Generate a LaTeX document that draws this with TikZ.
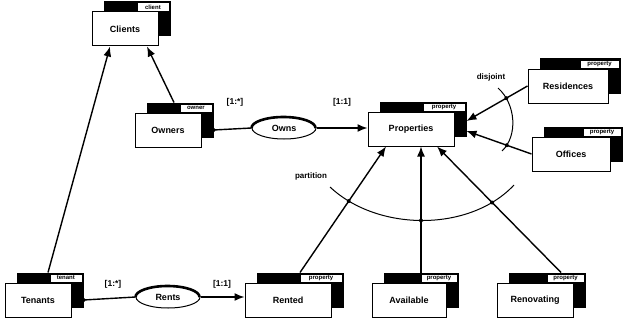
\documentclass[tikz,border=0pt]{standalone}
\usepackage{fontspec}
\setmainfont{Liberation Sans}
\usetikzlibrary{arrows.meta,intersections,calc,shapes.geometric}
\tikzset{
  frontbox/.style={draw,fill=white,line width=1pt,minimum height=34pt,inner sep=0pt,font=\bfseries\fontsize{9}{10}\selectfont},
  backbox/.style={draw,fill=black,line width=1pt,minimum height=34pt,inner sep=0pt},
  tagbox/.style={draw=black,fill=white,line width=0.5pt,minimum height=8.5pt,inner sep=0pt,font=\bfseries\fontsize{6}{6}\selectfont},
  rel/.style={draw,fill=white,ellipse,line width=1pt,minimum width=64pt,minimum height=22pt,inner sep=0pt,font=\bfseries\fontsize{9}{10}\selectfont},
  conn/.style={line width=1.4pt},
  arr/.style={line width=1.4pt,-{Latex[length=10pt,width=8pt]}},
  card/.style={font=\bfseries\fontsize{8.5}{9}\selectfont},
  note/.style={font=\bfseries\fontsize{8}{9}\selectfont},
  dotm/.style={circle,fill=black,inner sep=0pt,minimum size=4pt},
}
\newcommand\entity[6]{%
  \node[backbox,minimum width=#4pt] (#1B) at (#2+12,#3-10) {};
  \node[tagbox,anchor=north east,minimum width=0.48*#4pt] (#1T) at ([xshift=-1.5pt,yshift=-1pt]#1B.north east) {#6};
  \node[frontbox,minimum width=#4pt] (#1) at (#2,#3) {#5};
}
\begin{document}
\begin{tikzpicture}[x=1pt,y=-1pt]
\useasboundingbox (0,0) rectangle (631,321);
\entity{clients}{125}{29}{66}{Clients}{client}
\entity{owners}{168}{130}{66}{Owners}{owner}
\entity{properties}{411}{129}{86}{Properties}{property}
\entity{residences}{568}{86}{80}{Residences}{property}
\entity{offices}{571}{154}{78}{Offices}{property}
\entity{tenants}{38}{300}{66}{Tenants}{tenant}
\entity{rented}{288}{300}{86}{Rented}{property}
\entity{available}{409}{300}{74}{Available}{property}
\entity{renovating}{535}{300}{76}{Renovating}{property}

\node[rel] (owns) at (284,128) {Owns};
\draw[line width=2.6pt] (owns.west) arc[start angle=180,end angle=0,x radius=32pt,y radius=11pt];
\node[rel] (rents) at (168,297) {Rents};
\draw[line width=2.6pt] (rents.west) arc[start angle=180,end angle=0,x radius=32pt,y radius=11pt];

% generalisation to clients
\draw[arr] ([xshift=-6pt]ownersB.north) -- ([xshift=22pt]clients.south);
\draw[arr] ([xshift=-2pt]tenantsB.north) -- ([xshift=-15pt]clients.south);

% relationships
\draw[conn] ([yshift=-10pt]ownersB.east) -- (owns.west);
\node[dotm] at ([yshift=-10pt]ownersB.east) {};
\draw[arr] (owns.east) -- (owns.east -| properties.west);
\draw[conn] ([yshift=-10pt]tenantsB.east) -- (rents.west);
\node[dotm] at ([yshift=-10pt]tenantsB.east) {};
\draw[arr] (rents.east) -- (rents.east -| rented.west);

\node[card] (c1) at (235,102) {[1:*]};
\node[card] (c2) at (342,102) {[1:1]};
\node[card] (c3) at (113,284) {[1:*]};
\node[card] (c4) at (222,284) {[1:1]};

% disjoint
\draw[arr,name path=lres] (residences.west) -- ([yshift=-2pt]propertiesB.east);
\draw[arr,name path=loff] (offices.west) -- ([yshift=-12pt]propertiesB.east);
\draw[line width=1pt,name path=darc] (498,88) .. controls (516,104) and (518,136) .. (502,151);
\fill[name intersections={of=lres and darc}] (intersection-1) circle (2pt);
\fill[name intersections={of=loff and darc}] (intersection-1) circle (2pt);
\node[note] (dj) at (491,77) {disjoint};

% partition
\draw[arr,name path=lren] (rentedB.north) -- ([xshift=-25pt]properties.south);
\draw[arr,name path=lava] (availableB.north) -- (availableB.north |- properties.south);
\draw[arr,name path=lrnv] ([xshift=14pt]renovatingB.north) -- ([xshift=26pt]properties.south);
\draw[line width=1pt,name path=parc] (330,187) .. controls (378,232) and (470,232) .. (514,185);
\fill[name intersections={of=lren and parc}] (intersection-1) circle (2pt);
\fill[name intersections={of=lava and parc}] (intersection-1) circle (2pt);
\fill[name intersections={of=lrnv and parc}] (intersection-1) circle (2pt);
\node[note] (pt) at (311,176) {partition};
\end{tikzpicture}
\end{document}
